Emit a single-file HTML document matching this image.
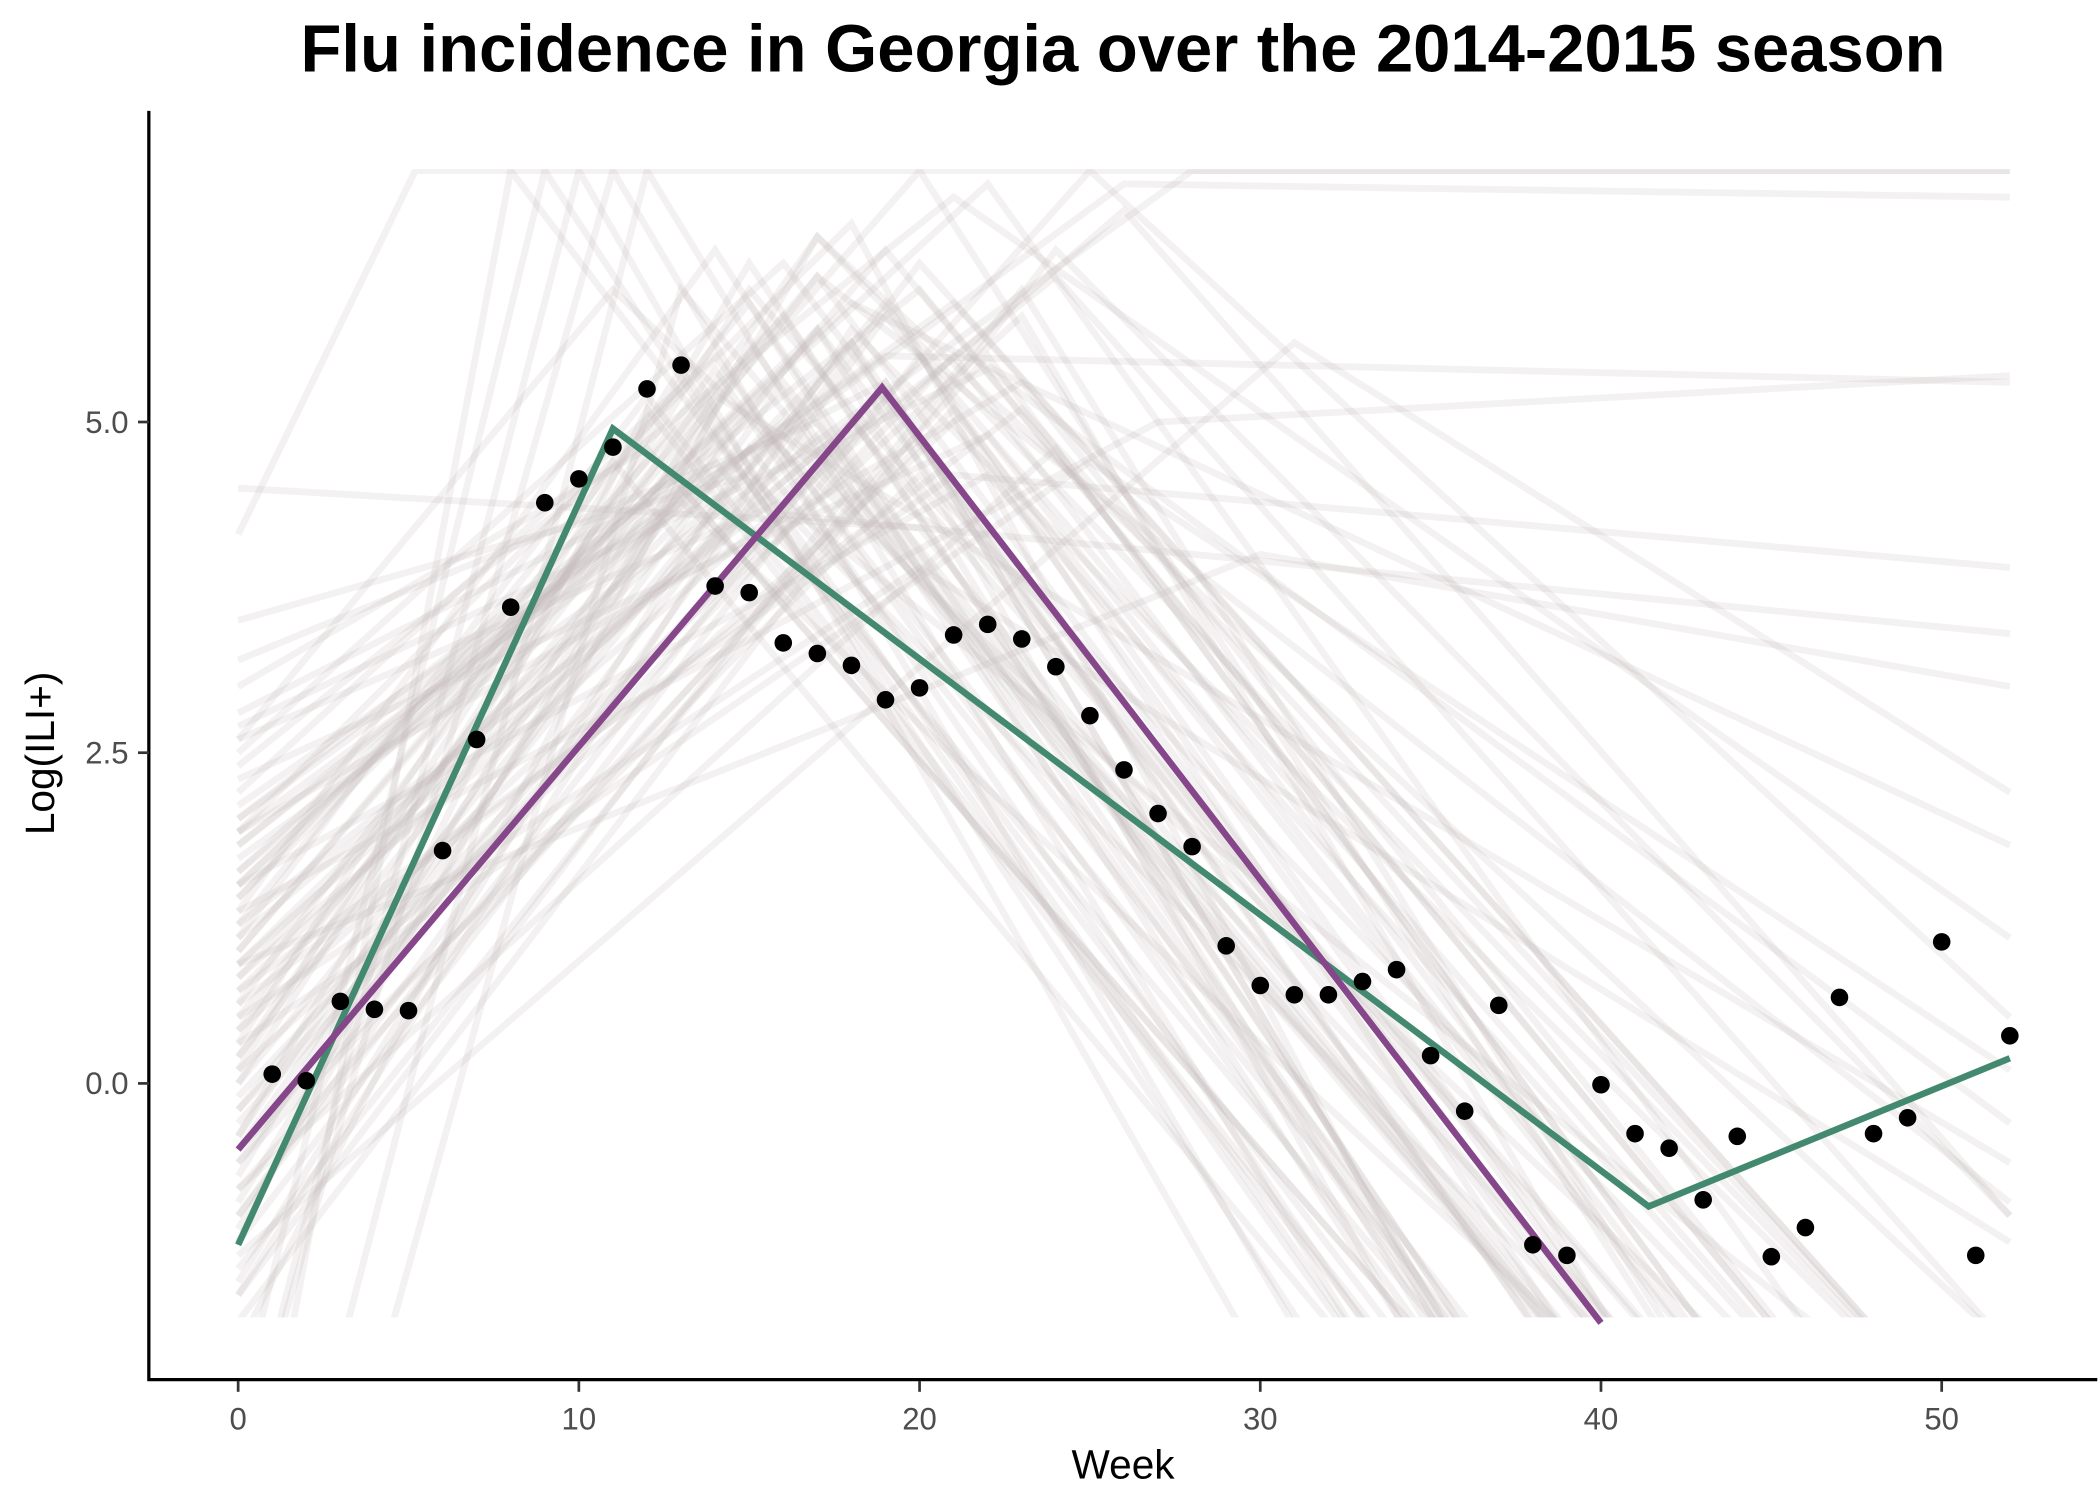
<!DOCTYPE html>
<html><head><meta charset="utf-8"><style>
html,body{margin:0;padding:0;background:#fff;overflow:hidden;}
svg{display:block;font-family:"Liberation Sans",sans-serif;}
</style></head><body>
<svg id="chart" width="2100" height="1500" viewBox="0 0 1552 1109" preserveAspectRatio="none" xmlns="http://www.w3.org/2000/svg">
<defs><clipPath id="clip"><rect x="110" y="125" width="1440" height="849"/></clipPath></defs>
<text x="830" y="53" text-anchor="middle" font-size="49.5" font-weight="bold" fill="#000">Flu incidence in Georgia over the 2014-2015 season</text>
<g id="samples" clip-path="url(#clip)"></g>
<g id="fits"></g>
<g id="pts"></g>
<line x1="110" y1="82" x2="110" y2="1021" stroke="#000" stroke-width="2.4"/>
<line x1="109" y1="1020" x2="1550" y2="1020" stroke="#000" stroke-width="2.4"/>
<g id="xticks"></g>
<g id="yticks"></g>
<text x="830" y="1093" text-anchor="middle" font-size="30" fill="#000">Week</text>
<text transform="translate(40,557) rotate(-90)" text-anchor="middle" font-size="30" fill="#000">Log(ILI+)</text>
</svg>
<script>
const weeks = [1,2,3,4,5,6,7,8,9,10,11,12,13,14,15,16,17,18,19,20,21,22,23,24,25,26,27,28,29,30,31,32,33,34,35,36,37,38,39,40,41,42,43,44,45,46,47,48,49,50,51,52];
const values = [0.07,0.02,0.62,0.56,0.55,1.76,2.6,3.6,4.39,4.57,4.81,5.25,5.43,3.76,3.71,3.33,3.25,3.16,2.9,2.99,3.39,3.47,3.36,3.15,2.78,2.37,2.04,1.79,1.04,0.74,0.67,0.67,0.77,0.86,0.21,-0.21,0.59,-1.22,-1.3,-0.01,-0.38,-0.49,-0.88,-0.4,-1.31,-1.09,0.65,-0.38,-0.26,1.07,-1.3,0.36];
const greenWeeks = [0,11,41.4,52];
const greenVals = [-1.22,4.95,-0.93,0.19];
const purpleWeeks = [0,18.9,40];
const purpleVals = [-0.5,5.26,-1.81];
const xTicks = [0,10,20,30,40,50];
const yTicks = [0,2.5,5];
const yTickLabels = ["0.0","2.5","5.0"];
// sample curves: start value at week 0, peak week, peak value, value at week 52
const sStart = [4.15,4.5,3.5,3.2,3.0,2.8,2.6,2.5,2.2,2.0,1.9,1.8,1.6,1.5,1.4,1.2,1.1,1.0,0.9,0.8,0.6,0.5,0.4,0.3,0.2,0.1,0.0,-0.2,-0.3,-0.4,-0.5,-0.6,-0.8,-0.9,-1.0,-1.1,-1.2,-1.4,-1.5,-1.6,-1.8,-2.5,-3.0,-4,-6,1.7,2.1,1.3,0.7,-0.1,0.9,1.5,2.4,-0.7,0.3,1.0,-1.3,0.5,1.9,2.7,
 1.6,0.8,-0.5,1.2,2.3,-1.0,0.4,1.8,-0.2,0.6,1.4,-1.6,2.0,0.1,-0.8,1.1,-3,-5,0.2,1.5,-0.4,0.9,-1.2,2.6,0.0,1.3,-0.6,0.7,-2,1.9];
const sPeakW = [5.2,20,15,17,12,19,11,16,14,21,18,13,22,15,17,24,12,20,16,26,14,19,23,11,17,21,15,18,25,13,16,20,22,14,19,17,12,23,15,18,24,9,10,8,13,28,19,27,21,16,30,18,21,14,25,17,31,20,26,22,
 16,18,20,15,22,19,17,14,21,23,16,18,20,13,24,19,11,12,17,22,15,18,20,16,19,14,21,17,15,23];
const sPeakV = [6.9,4.2,4.6,5.0,4.8,5.3,6.0,6.2,5.5,5.9,6.5,4.4,6.8,5.1,5.7,6.1,5.2,6.9,4.9,6.6,5.4,6.3,5.8,4.7,6.4,5.0,6.0,5.6,6.9,4.5,5.3,6.2,5.5,4.9,5.8,6.4,5.1,6.0,4.8,5.7,6.3,6.9,6.9,6.9,6.0,6.9,5.5,5.0,4.6,4.3,4.0,5.9,6.7,5.2,4.7,6.1,5.6,3.9,6.8,5.4,
 5.0,5.6,4.6,5.9,4.9,5.3,6.1,4.7,5.5,5.1,5.8,4.5,6.0,5.4,4.8,5.2,6.9,6.9,5.7,4.6,6.2,5.0,5.5,4.4,5.9,6.3,5.1,4.9,5.6,5.3];
const sEnd = [6.9,-6,-5,-8,-7,-9,-4,-6,-8,-3,-10,-5,-4,-7,-9,-2,-8,-6,-5,-1,-9,-4,-7,-8,-3,-6,-5,-10,0.5,-7,-6,-3,-5,-9,-4,-2,-8,-6,-7,-3,-1,-10,-12,-8,-6,6.9,5.3,5.35,3.9,3.4,3.0,1.8,1.1,-0.6,0.1,-0.9,2.2,-1.2,6.7,-0.3,
 -6,-7,-4,-8,-5,-9,-6,-7,-5,-3,-8,-6,-4,-9,-5,-7,-11,-10,-6,-4,-8,-5,-6,-3,-7,-9,-5,-6,-8,-4];

const ns = "http://www.w3.org/2000/svg";
const X = w => 176 + w * 25.18;
const Y = v => 801 - v * 97.8;
function mk(tag, parent, attrs){const e=document.createElementNS(ns,tag);for(const k in attrs)e.setAttribute(k,attrs[k]);parent.appendChild(e);return e;}

const sg = document.getElementById('samples');
for (let i=0;i<sStart.length;i++){
  const l = mk('polyline', sg, {points:`${X(0)},${Y(sStart[i])} ${X(sPeakW[i])},${Y(sPeakV[i])} ${X(52)},${Y(sEnd[i])}`, fill:'none', stroke:'rgb(196,184,184)', 'stroke-opacity':'0.2', 'stroke-width':'5'});
  
  
}
const fg = document.getElementById('fits');
const gp = mk('polyline', fg, {points:greenWeeks.map((w,i)=>`${X(w)},${Y(greenVals[i])}`).join(' '), fill:'none', stroke:'#43896f', 'stroke-width':'4.8'});


const pp = mk('polyline', fg, {points:purpleWeeks.map((w,i)=>`${X(w)},${Y(purpleVals[i])}`).join(' '), fill:'none', stroke:'#86468a', 'stroke-width':'4.8'});



const pg = document.getElementById('pts');
weeks.forEach((w,i)=>{
  const c = mk('circle', pg, {cx:X(w), cy:Y(values[i]), r:'6.5', fill:'#000'});
  
  
});
const xg = document.getElementById('xticks');
xTicks.forEach(t=>{
  const tk = mk('line', xg, {x1:X(t), x2:X(t), y1:1021, y2:1029, stroke:'#333', 'stroke-width':'2'});
  
  
  const tx = mk('text', xg, {x:X(t), y:1057, 'text-anchor':'middle', 'font-size':'23', fill:'#4d4d4d'});
  tx.textContent = t;
  
  
});
const yg = document.getElementById('yticks');
yTicks.forEach((t,i)=>{
  const tk = mk('line', yg, {x1:102, x2:110, y1:Y(t), y2:Y(t), stroke:'#333', 'stroke-width':'2'});
  
  
  const tx = mk('text', yg, {x:95, y:Y(t)+8, 'text-anchor':'end', 'font-size':'23', fill:'#4d4d4d'});
  tx.textContent = yTickLabels[i];
  
  
});
</script>
</body></html>
